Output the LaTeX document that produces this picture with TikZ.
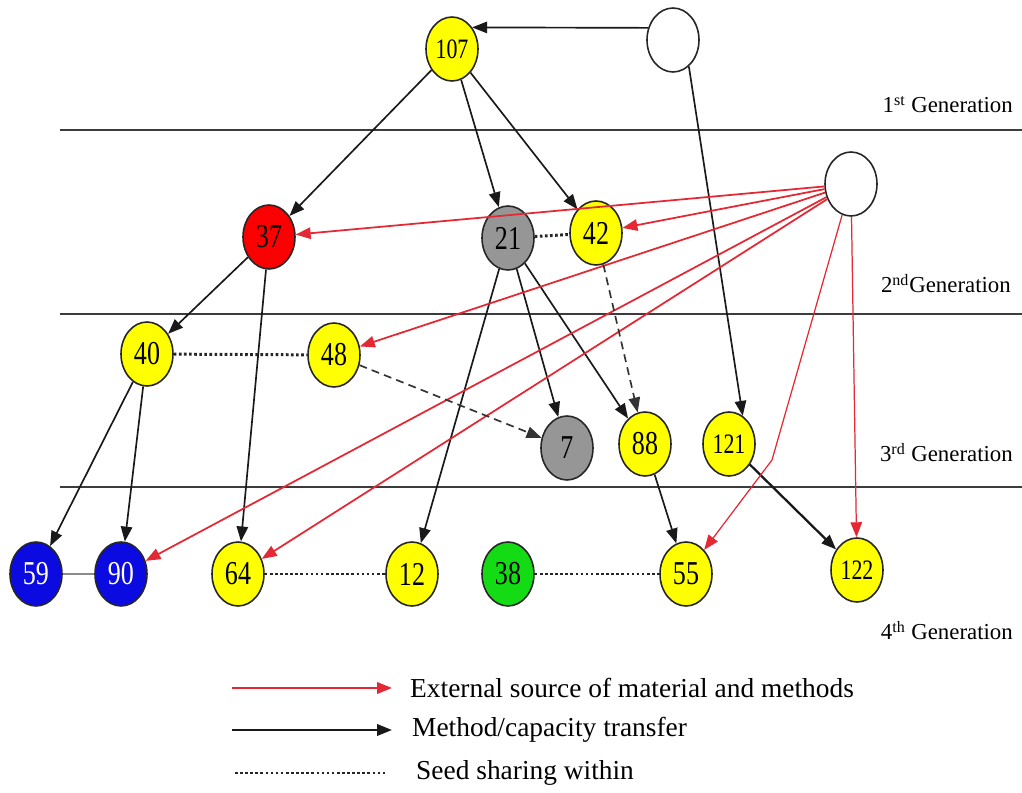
\documentclass[tikz,border=0pt]{standalone}
\usepackage{fontspec}
\setmainfont{Liberation Serif}
\newfontfamily\numfont[FakeStretch=0.78]{Liberation Serif}
\usepackage{xcolor}
\usetikzlibrary{shapes.geometric,arrows.meta}

\definecolor{seedyellow}{RGB}{255,255,0}
\definecolor{seedred}{RGB}{250,0,0}
\definecolor{seedgrey}{RGB}{150,150,150}
\definecolor{seedblue}{RGB}{10,10,225}
\definecolor{seedgreen}{RGB}{20,220,20}
\definecolor{extred}{RGB}{228,40,52}
\definecolor{rule}{RGB}{60,60,60}

\begin{document}
\begin{tikzpicture}[x=0.02cm,y=-0.02cm,
                >={Triangle[length=8.5pt,width=6.5pt]},
                org/.style = {ellipse, draw=black!85, line width=0.9pt, minimum width=1.04cm,
                              minimum height=1.28cm, inner sep=0pt, font=\numfont\fontsize{19}{19}\selectfont},
                bigorg/.style = {org, font=\numfont\fontsize{16}{16}\selectfont},
                transfer/.style = {->, draw=black!90, line width=0.95pt},
                external/.style = {->, draw=extred, line width=1pt},
                seed/.style = {draw=black!85, line width=1.7pt, dash pattern=on 1.5pt off 1.4pt},
                seedarrow/.style = {->, draw=black!80, line width=0.95pt, dash pattern=on 4.5pt off 3pt},
                gen/.style = {anchor=base east, font=\fontsize{13}{13}\selectfont},
                legend/.style = {anchor=west, font=\fontsize{15.6}{15.6}\selectfont}]
    \useasboundingbox (0,0) rectangle (1022,793);
    % generation rules
    \draw[rule, line width=1.3pt] (60,130) -- (1022,130);
    \draw[rule, line width=1.3pt] (60,314) -- (1022,314);
    \draw[rule, line width=1.3pt] (60,487) -- (1022,487);
    \node[gen] (g1) at (1019,113) {1\textsuperscript{st} Generation};
    \node[gen] (g2) at (1017,293) {2\textsuperscript{nd}Generation};
    \node[gen] (g3) at (1019,462) {3\textsuperscript{rd} Generation};
    \node[gen] (g4) at (1019,640) {4\textsuperscript{th} Generation};
    % organisations
    \node[org] (wtop) at (673,40) {};
    \node[org] (wright) at (851,184) {};
    \node[bigorg, fill=seedyellow] (n107) at (452,49) {107};
    \node[org, fill=seedred] (n37) at (269,237) {37};
    \node[org, fill=seedgrey] (n21) at (508,238) {21};
    \node[org, fill=seedyellow] (n42) at (596,233) {42};
    \node[org, fill=seedyellow] (n40) at (147,354) {40};
    \node[org, fill=seedyellow] (n48) at (334,355) {48};
    \node[org, fill=seedgrey] (n7) at (567,448) {7};
    \node[org, fill=seedyellow] (n88) at (645,444) {88};
    \node[bigorg, fill=seedyellow] (n121) at (729,444) {121};
    \node[org, fill=seedblue, text=white] (n59) at (36,574) {59};
    \node[org, fill=seedblue, text=white] (n90) at (121,574) {90};
    \node[org, fill=seedyellow] (n64) at (238,574) {64};
    \node[org, fill=seedyellow] (n12) at (412,574) {12};
    \node[org, fill=seedgreen] (n38) at (508,574) {38};
    \node[org, fill=seedyellow] (n55) at (686,574) {55};
    \node[bigorg, fill=seedyellow] (n122) at (857,570) {122};
    \coordinate (bend) at (772,460);
    % method/capacity transfer
    \draw[transfer] (wtop.154) -- (n107.47);
    \draw[transfer] (wtop.-59) -- (n121.64);
    \draw[transfer] (n107) -- (n37);
    \draw[transfer] (n107) -- (n21);
    \draw[transfer] (n107) -- (n42);
    \draw[transfer] (n37) -- (n40);
    \draw[transfer] (n37) -- (n64);
    \draw[transfer] (n21) -- (n7);
    \draw[transfer] (n21) -- (n88);
    \draw[transfer] (n21) -- (n12);
    \draw[transfer] (n40) -- (n59);
    \draw[transfer] (n40) -- (n90);
    \draw[transfer] (n88) -- (n55);
    \draw[transfer, line width=1.3pt] (n121) -- (n122);
    % external sources
    \draw[external] (wright) -- (n37);
    \draw[external] (wright) -- (n42);
    \draw[external] (wright) -- (n48);
    \draw[external] (wright) -- (n90);
    \draw[external] (wright) -- (n64);
    \draw[external, line width=0.7pt] (wright) -- (bend) -- (n55);
    \draw[external, line width=0.7pt] (wright) -- (n122);
    % seed sharing
    \draw[seed] (n21) -- (n42);
    \draw[seed] (n40) -- (n48);
    \draw[seed] (n64) -- (n12);
    \draw[seed] (n38) -- (n55);
    \draw[seedarrow] (n42) -- (n88);
    \draw[seedarrow] (n48) -- (n7);
    \draw[black!45, line width=0.9pt] (n59) -- (n90);
    % legend
    \coordinate (l1a) at (232,688); \coordinate (l1b) at (392,688);
    \coordinate (l2a) at (232,730); \coordinate (l2b) at (392,730);
    \coordinate (l3a) at (235,773); \coordinate (l3b) at (385,773);
    \draw[external, line width=1.2pt] (l1a) -- (l1b);
    \draw[transfer, line width=1.3pt] (l2a) -- (l2b);
    \draw[seed] (l3a) -- (l3b);
    \node[legend] (t1) at (404,688) {External source of material and methods};
    \node[legend] (t2) at (406,730) {Method/capacity transfer};
    \node[legend] (t3) at (410,773) {Seed sharing within};
\end{tikzpicture}
\end{document}
